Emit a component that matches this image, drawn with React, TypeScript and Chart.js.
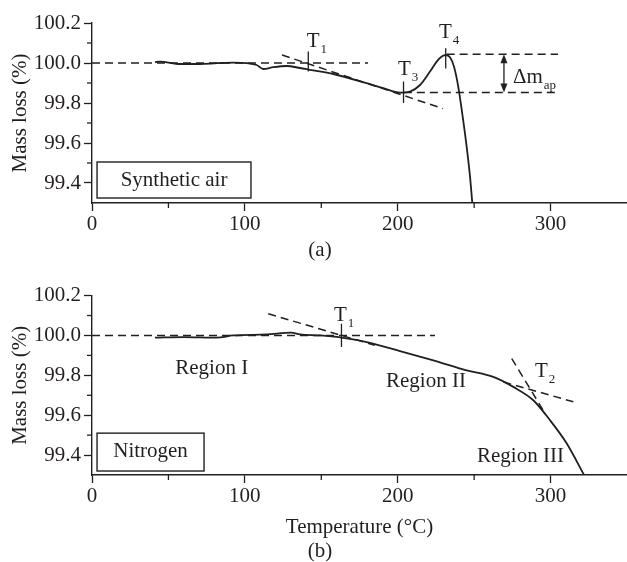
import React, { useEffect, useRef } from 'react';
import { Chart, registerables } from 'chart.js';

Chart.register(...registerables);

const INK = '#231f20';
const FONT = "'Liberation Serif', 'Times New Roman', Times, serif";

// ---------- Tick labels ----------
const xTicks = [0, 100, 200, 300];
const xMinorTicks = [50, 150, 250];
const yTicks = [99.4, 99.6, 99.8, 100.0, 100.2];
const yMinorTicks = [99.5, 99.7, 99.9, 100.1];

// ---------- (a) Synthetic air ----------
const airTemp = [41.2, 44.5, 57.6, 70.7, 81.6, 92.4, 101.2, 107.7, 112.1, 118.6, 127.4, 136.1, 142.6, 157.9, 179.7, 190.6, 201.5, 208.0, 214.6, 221.1, 225.5, 228.8, 231.4, 234.2, 236.8, 239.6, 242.5, 245.1, 247.3, 248.8];
const airMass = [100.004, 100.007, 99.995, 99.995, 99.999, 100.002, 99.999, 99.99, 99.97, 99.979, 99.985, 99.975, 99.966, 99.945, 99.899, 99.874, 99.852, 99.857, 99.890, 99.957, 100.007, 100.032, 100.040, 100.029, 99.982, 99.882, 99.732, 99.582, 99.432, 99.300];

const airBaseline = [[0, 100.0], [180.6, 100.0]];
const airTangent = [[124.3, 100.04], [229.6, 99.772]];
const airT4Level = [[232.0, 100.044], [304.9, 100.044]];
const airT3Level = [[204.0, 99.852], [304.9, 99.852]];
const airT1Mark = [[141.5, 100.057], [141.5, 99.957]];
const airT3Mark = [[203.8, 99.907], [203.8, 99.8]];
const airT4Mark = [[231.4, 100.074], [231.4, 99.973]];

// ---------- (b) Nitrogen ----------
const n2Temp = [41.2, 59.7, 81.6, 92.4, 114.3, 130.4, 136.1, 149.2, 163.3, 179.7, 201.5, 223.3, 245.1, 262.5, 275.6, 288.7, 299.6, 310.5, 321.9];
const n2Mass = [99.989, 99.992, 99.989, 100.0, 100.005, 100.014, 100.005, 100.0, 99.989, 99.967, 99.922, 99.875, 99.825, 99.792, 99.742, 99.675, 99.575, 99.459, 99.3];

const n2Baseline = [[0, 100.0], [224.4, 100.0]];
const n2Tangent1 = [[115.3, 100.109], [185.0, 99.951]];
const n2TangentSteep = [[274.6, 99.884], [296.4, 99.609]];
const n2TangentShallow = [[269.1, 99.767], [314.9, 99.667]];
const n2T1Mark = [[163.2, 100.059], [163.2, 99.942]];

type Pt = number[];

function curveDs(xs: number[], ys: number[]) {
  return {
    data: xs.map((x, i) => ({ x, y: ys[i] })),
    borderColor: INK,
    borderWidth: 1.8,
    pointRadius: 0,
    cubicInterpolationMode: 'monotone',
    fill: false,
  };
}

function segDs(pts: Pt[], dashed: boolean) {
  return {
    data: pts.map(([x, y]) => ({ x, y })),
    borderColor: INK,
    borderWidth: dashed ? 1.5 : 1.3,
    borderDash: dashed ? [8, 5] : [],
    pointRadius: 0,
    tension: 0,
    fill: false,
  };
}

type TextSpec = { text: string; sub?: string; x: number; y: number; align?: CanvasTextAlign };
type PanelSpec = {
  texts: TextSpec[];
  box: { x0: number; x1: number; y0: number; y1: number; text: string; ty: number };
  caption: { text: string; px: number; py: number };
  arrow?: { x: number; y0: number; y1: number };
};

function annotPlugin(spec: PanelSpec) {
  return {
    id: 'annot',
    afterDraw(chart: any) {
      const { ctx, chartArea } = chart;
      const sx = chart.scales.x;
      const sy = chart.scales.y;
      ctx.save();
      ctx.strokeStyle = INK;
      ctx.fillStyle = INK;
      ctx.lineWidth = 1.3;
      // minor ticks
      for (const v of yMinorTicks) {
        const py = sy.getPixelForValue(v);
        ctx.beginPath();
        ctx.moveTo(chartArea.left - 5, py);
        ctx.lineTo(chartArea.left, py);
        ctx.stroke();
      }
      for (const v of xMinorTicks) {
        const px = sx.getPixelForValue(v);
        ctx.beginPath();
        ctx.moveTo(px, chartArea.bottom);
        ctx.lineTo(px, chartArea.bottom + 5);
        ctx.stroke();
      }
      // box
      const b = spec.box;
      const bx0 = sx.getPixelForValue(b.x0);
      const bx1 = sx.getPixelForValue(b.x1);
      const by0 = sy.getPixelForValue(b.y0);
      const by1 = sy.getPixelForValue(b.y1);
      ctx.lineWidth = 1.4;
      ctx.strokeRect(bx0, by0, bx1 - bx0, by1 - by0);
      ctx.font = `21px ${FONT}`;
      ctx.textAlign = 'center';
      ctx.textBaseline = 'alphabetic';
      ctx.fillText(b.text, (bx0 + bx1) / 2, sy.getPixelForValue(b.ty));
      // texts
      for (const t of spec.texts) {
        const px = sx.getPixelForValue(t.x);
        const py = sy.getPixelForValue(t.y);
        ctx.font = `21px ${FONT}`;
        ctx.textAlign = t.align || 'left';
        ctx.textBaseline = 'alphabetic';
        ctx.fillText(t.text, px, py);
        if (t.sub) {
          const w = ctx.measureText(t.text).width;
          ctx.font = `13px ${FONT}`;
          ctx.textAlign = 'left';
          ctx.fillText(t.sub, px + w + 1, py + 6);
        }
      }
      // arrow
      if (spec.arrow) {
        const a = spec.arrow;
        const ax = sx.getPixelForValue(a.x);
        const ay0 = sy.getPixelForValue(a.y0);
        const ay1 = sy.getPixelForValue(a.y1);
        ctx.lineWidth = 1.3;
        ctx.beginPath();
        ctx.moveTo(ax, ay0 + 6);
        ctx.lineTo(ax, ay1 - 6);
        ctx.stroke();
        ctx.beginPath();
        ctx.moveTo(ax, ay0);
        ctx.lineTo(ax - 3.5, ay0 + 9);
        ctx.lineTo(ax + 3.5, ay0 + 9);
        ctx.closePath();
        ctx.fill();
        ctx.beginPath();
        ctx.moveTo(ax, ay1);
        ctx.lineTo(ax - 3.5, ay1 - 9);
        ctx.lineTo(ax + 3.5, ay1 - 9);
        ctx.closePath();
        ctx.fill();
      }
      // caption
      ctx.font = `21px ${FONT}`;
      ctx.textAlign = 'center';
      ctx.textBaseline = 'middle';
      ctx.fillText(spec.caption.text, spec.caption.px, spec.caption.py);
      ctx.restore();
    },
  };
}

function makeConfig(datasets: any[], spec: PanelSpec, padTop: number, xHeight: number, xTitle: string) {
  return {
    type: 'line',
    data: { datasets },
    options: {
      animation: false,
      responsive: false,
      devicePixelRatio: 1,
      layout: { padding: { top: padTop, left: 0, right: 0, bottom: 0 } },
      plugins: { legend: { display: false }, tooltip: { enabled: false } },
      scales: {
        x: {
          type: 'linear',
          min: 0,
          max: 350,
          afterBuildTicks: (s: any) => {
            s.ticks = xTicks.map((v) => ({ value: v }));
          },
          afterFit: (s: any) => {
            s.height = xHeight;
          },
          grid: { drawOnChartArea: false, drawTicks: true, tickLength: 8, tickColor: INK, tickWidth: 1.3 },
          border: { display: true, color: INK, width: 1.4 },
          ticks: {
            color: INK,
            font: { family: FONT, size: 21 },
            padding: 1,
            maxRotation: 0,
            autoSkip: false,
            callback: (v: any) => String(v),
          },
          title: {
            display: !!xTitle,
            text: xTitle,
            color: INK,
            font: { family: FONT, size: 21 },
            padding: { top: 0, bottom: 22.4 },
          },
        },
        y: {
          type: 'linear',
          min: 99.3,
          max: 100.2,
          afterBuildTicks: (s: any) => {
            s.ticks = yTicks.map((v) => ({ value: v }));
          },
          afterFit: (s: any) => {
            s.width = 92;
          },
          grid: { drawOnChartArea: false, drawTicks: true, tickLength: 8, tickColor: INK, tickWidth: 1.3 },
          border: { display: true, color: INK, width: 1.4 },
          ticks: {
            color: INK,
            font: { family: FONT, size: 21 },
            padding: 3,
            autoSkip: false,
            callback: (v: any) => Number(v).toFixed(1),
          },
          title: {
            display: true,
            text: 'Mass loss (%)',
            color: INK,
            font: { family: FONT, size: 21 },
            padding: { top: 7.4, bottom: 0 },
          },
        },
      },
    },
    plugins: [annotPlugin(spec)],
  };
}

export default function App() {
  const refA = useRef<HTMLCanvasElement | null>(null);
  const refB = useRef<HTMLCanvasElement | null>(null);

  useEffect(() => {
    const specA: PanelSpec = {
      texts: [
        { text: 'T', sub: '1', x: 140.5, y: 100.082 },
        { text: 'T', sub: '3', x: 200.2, y: 99.94 },
        { text: 'T', sub: '4', x: 227.0, y: 100.125 },
        { text: '\u0394m', sub: 'ap', x: 275.4, y: 99.9 },
      ],
      box: { x0: 3.3, x1: 104, y0: 99.505, y1: 99.325, text: 'Synthetic air', ty: 99.384 },
      caption: { text: '(a)', px: 320, py: 250 },
      arrow: { x: 269.5, y0: 100.044, y1: 99.852 },
    };
    const specB: PanelSpec = {
      texts: [
        { text: 'T', sub: '1', x: 158.3, y: 100.075 },
        { text: 'T', sub: '2', x: 289.8, y: 99.79 },
        { text: 'Region I', x: 78.3, y: 99.805, align: 'center' },
        { text: 'Region II', x: 218.5, y: 99.739, align: 'center' },
        { text: 'Region III', x: 280.3, y: 99.364, align: 'center' },
      ],
      box: { x0: 3.3, x1: 73.3, y0: 99.51, y1: 99.32, text: 'Nitrogen', ty: 99.389 },
      caption: { text: '(b)', px: 320, py: 271 },
    };

    const dsA = [
      curveDs(airTemp, airMass),
      segDs(airBaseline, true),
      segDs(airTangent, true),
      segDs(airT4Level, true),
      segDs(airT3Level, true),
      segDs(airT1Mark, false),
      segDs(airT3Mark, false),
      segDs(airT4Mark, false),
    ];
    const dsB = [
      curveDs(n2Temp, n2Mass),
      segDs(n2Baseline, true),
      segDs(n2Tangent1, true),
      segDs(n2TangentSteep, true),
      segDs(n2TangentShallow, true),
      segDs(n2T1Mark, false),
    ];

    const chartA = new Chart(refA.current as HTMLCanvasElement, makeConfig(dsA, specA, 23, 77, '') as any);
    const chartB = new Chart(refB.current as HTMLCanvasElement, makeConfig(dsB, specB, 15, 87, 'Temperature (\u00B0C)') as any);
    return () => {
      chartA.destroy();
      chartB.destroy();
    };
  }, []);

  return (
    <div style={{ position: 'absolute', left: 0, top: 0, width: 627, height: 562, background: '#fff' }}>
      <canvas ref={refA} width={627} height={280} style={{ position: 'absolute', left: 0, top: 0, width: 627, height: 280 }} />
      <canvas ref={refB} width={627} height={282} style={{ position: 'absolute', left: 0, top: 280, width: 627, height: 282 }} />
    </div>
  );
}
